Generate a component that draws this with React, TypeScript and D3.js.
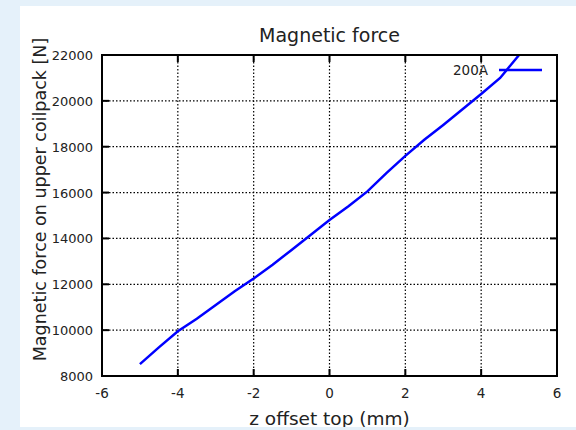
import * as d3 from "d3";
import React from "react";

// values
const offsets = [-5, -4.5, -4, -3.5, -3, -2.5, -2, -1.5, -1, -0.5, 0, 0.5, 1, 1.5, 2, 2.5, 3, 3.5, 4, 4.5, 5];
const force200A = [8520, 9250, 9950, 10500, 11100, 11700, 12250, 12850, 13500, 14150, 14800, 15400, 16050, 16850, 17600, 18300, 18950, 19620, 20300, 21000, 22000];
const xTicks = [-6, -4, -2, 0, 2, 4, 6];
const yTicks = [8000, 10000, 12000, 14000, 16000, 18000, 20000, 22000];
const seriesName = "200A";

const W = 576, H = 430;
const plot = { left: 102, right: 557, top: 55, bottom: 376 };
const font = "'DejaVu Sans', sans-serif";

function App() {
    const x = d3.scaleLinear().domain([-6, 6]).range([plot.left, plot.right]);
    const y = d3.scaleLinear().domain([8000, 22000]).range([plot.bottom, plot.top]);
    const pts: [number, number][] = offsets.map((o, i) => [o, force200A[i]]);
    const line = d3.line<[number, number]>().x(d => x(d[0])).y(d => y(d[1]));

    return (
        <svg width={W} height={H} style={{ position: "absolute", left: 0, top: 0 }} fontFamily={font}>
            <defs>
                <clipPath id="panel"><rect x={20} y={6} width={W - 20} height={421} /></clipPath>
                <clipPath id="plotArea"><rect x={plot.left} y={plot.top} width={plot.right - plot.left} height={plot.bottom - plot.top} /></clipPath>
            </defs>
            <rect width={W} height={H} fill="#e5f1fa" />
            <g clipPath="url(#panel)">
                <rect x={20} y={6} width={W - 20} height={421} fill="#fff" />
                {/* grid */}
                {xTicks.slice(1, -1).map(t => (
                    <line key={"gx" + t} x1={x(t)} x2={x(t)} y1={plot.top} y2={plot.bottom} stroke="#000" strokeWidth={1.2} strokeDasharray="1.5,2" />
                ))}
                {yTicks.slice(1, -1).map(t => (
                    <line key={"gy" + t} y1={y(t)} y2={y(t)} x1={plot.left} x2={plot.right} stroke="#000" strokeWidth={1.2} strokeDasharray="1.5,2" />
                ))}
                {/* ticks */}
                {xTicks.map(t => (
                    <g key={"tx" + t}>
                        <line x1={x(t)} x2={x(t)} y1={plot.bottom} y2={plot.bottom - 7} stroke="#000" strokeWidth={2} />
                        <line x1={x(t)} x2={x(t)} y1={plot.top} y2={plot.top + 7} stroke="#000" strokeWidth={2} />
                        <text x={x(t)} y={plot.bottom + 22} textAnchor="middle" fontSize={13.5} fill="#222">{t}</text>
                    </g>
                ))}
                {yTicks.map(t => (
                    <g key={"ty" + t}>
                        <line x1={plot.left} x2={plot.left + 7} y1={y(t)} y2={y(t)} stroke="#000" strokeWidth={2} />
                        <line x1={plot.right} x2={plot.right - 7} y1={y(t)} y2={y(t)} stroke="#000" strokeWidth={2} />
                        <text x={plot.left - 9} y={y(t) + 5} textAnchor="end" fontSize={13} fill="#222">{t}</text>
                    </g>
                ))}
                {/* data */}
                <path d={line(pts) ?? ""} fill="none" stroke="#0000ff" strokeWidth={2.5} clipPath="url(#plotArea)" />
                {/* legend */}
                <text x={488} y={75} textAnchor="end" fontSize={13.5} fill="#222">{seriesName}</text>
                <line x1={499} x2={542} y1={70} y2={70} stroke="#0000ff" strokeWidth={2.5} />
                {/* frame */}
                <rect x={plot.left} y={plot.top} width={plot.right - plot.left} height={plot.bottom - plot.top} fill="none" stroke="#000" strokeWidth={2} />
                {/* labels */}
                <text x={(plot.left + plot.right) / 2} y={42} textAnchor="middle" fontSize={19} fill="#222">Magnetic force</text>
                <text x={(plot.left + plot.right) / 2} y={425} textAnchor="middle" fontSize={18.5} fill="#222">z offset top (mm)</text>
                <text transform={`translate(46,${(plot.top + plot.bottom) / 2 - 16}) rotate(-90)`} textAnchor="middle" fontSize={17.5} fill="#222">Magnetic force on upper coilpack [N]</text>
            </g>
        </svg>
    );
}

export default App;
